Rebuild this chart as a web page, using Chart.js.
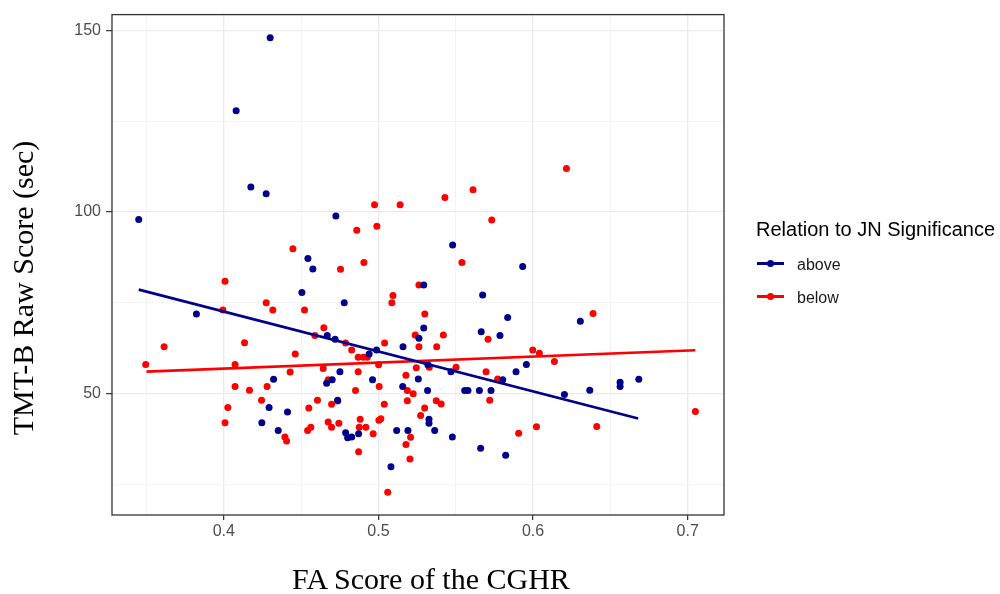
<!DOCTYPE html>
<html>
<head>
<meta charset="utf-8">
<title>TMT-B Raw Score vs FA Score of the CGHR</title>
<script src="https://cdn.jsdelivr.net/npm/chart.js@4"></script>
<style>
  * { margin: 0; padding: 0; box-sizing: border-box }
  body { width: 1000px; height: 594px; background: #fff; overflow: hidden; font-family: "Liberation Sans", Arial, sans-serif }
  #wrap { position: relative; width: 1000px; height: 594px }
  #chart { position: absolute; left: 0; top: 0 }
  .ax-title { position: absolute; width: 400px; height: 30px; font-family: "Liberation Serif", "Times New Roman", serif; font-size: 30px; line-height: 30px; color: #000; text-align: center; white-space: nowrap }
  #xTitle { left: 231px; top: 564px }
  #yTitle { left: -177px; top: 273px; transform: rotate(-90deg) }
  #legTitle { position: absolute; left: 756px; top: 219px; font-size: 20px; line-height: 20px; color: #000; white-space: nowrap }
  .leg-key { position: absolute; left: 757px; width: 27px; height: 3px }
  .leg-key span { position: absolute; left: 10px; top: -2px; width: 7px; height: 7px; border-radius: 50% }
  .leg-text { position: absolute; left: 797px; font-size: 16px; line-height: 16px; color: #1a1a1a; white-space: nowrap }
</style>
</head>
<body>
<div id="wrap">
  <canvas id="chart" width="1000" height="594"></canvas>
  <div class="ax-title" id="xTitle">FA Score of the CGHR</div>
  <div class="ax-title" id="yTitle">TMT-B Raw Score (sec)</div>
  <div id="legTitle">Relation to JN Significance</div>
  <div id="legend"></div>
</div>
<script>
// ---- data ----
var aboveX = [0.430, 0.408, 0.4175, 0.4274, 0.345, 0.4725, 0.4544, 0.4576, 0.548, 0.5293,
              0.4505, 0.4779, 0.5293, 0.5262, 0.5674, 0.5836, 0.5665, 0.5786, 0.6306, 0.5957,
              0.589, 0.5804, 0.5558, 0.5579, 0.5653, 0.5728, 0.6203, 0.6367, 0.6563, 0.6563,
              0.6684, 0.5661, 0.5823, 0.5478, 0.5469, 0.5318, 0.5258, 0.532, 0.5159, 0.5157,
              0.5327, 0.5327, 0.5364, 0.5191, 0.494, 0.4988, 0.4751, 0.4665, 0.4701, 0.4962,
              0.5118, 0.5081, 0.4788, 0.4801, 0.4827, 0.4872, 0.3823, 0.4669, 0.472, 0.4322,
              0.4293, 0.4412, 0.4246, 0.4352, 0.4736, 0.5933];
var aboveY = [148.0, 127.9, 106.9, 105.0, 97.9, 98.9, 87.2, 84.3, 90.9, 79.9,
              77.8, 75.0, 68.0, 65.2, 77.1, 70.9, 67.0, 66.0, 69.9, 58.0,
              56.0, 53.8, 50.8, 50.8, 50.8, 50.8, 49.7, 50.9, 53.1, 51.9,
              53.9, 34.9, 33.0, 38.0, 56.0, 50.8, 54.0, 57.9, 62.9, 51.9,
              42.9, 41.8, 39.8, 39.8, 60.9, 62.0, 56.0, 52.8, 53.8, 53.8,
              39.8, 29.8, 39.2, 37.8, 38.0, 38.9, 71.9, 66.0, 64.9, 53.9,
              46.1, 44.9, 41.9, 39.8, 48.1, 85.0];

var belowX = [0.4975, 0.514, 0.486, 0.499, 0.4447, 0.4906, 0.4755, 0.5612, 0.543, 0.554,
              0.5262, 0.5094, 0.5087, 0.530, 0.4522, 0.4647, 0.5238, 0.542, 0.5709, 0.6388,
              0.5998, 0.6041, 0.6138, 0.5696, 0.5771, 0.572, 0.6022, 0.5907, 0.6412, 0.705,
              0.5502, 0.5178, 0.5245, 0.5329, 0.5187, 0.5225, 0.5187, 0.5374, 0.5406, 0.5299,
              0.5273, 0.5208, 0.5178, 0.5204, 0.5262, 0.5377, 0.5733, 0.6216, 0.504, 0.4869,
              0.4902, 0.4928, 0.4827, 0.5001, 0.4869, 0.4643, 0.4675, 0.4852, 0.5005, 0.4606,
              0.455, 0.4697, 0.4737, 0.5038, 0.5003, 0.5016, 0.4675, 0.4697, 0.4744, 0.4542,
              0.4563, 0.4882, 0.4876, 0.4919, 0.4966, 0.4872, 0.506, 0.4008, 0.4274, 0.4317,
              0.3994, 0.4589, 0.4788, 0.4134, 0.3614, 0.3495, 0.4462, 0.4073, 0.4429, 0.4073,
              0.4166, 0.428, 0.4244, 0.4026, 0.4008, 0.4395, 0.4406];
var belowY = [102.0, 102.0, 95.0, 96.1, 89.9, 86.1, 84.2, 106.1, 104.0, 86.1,
              79.9, 77.0, 75.0, 71.9, 73.0, 68.1, 66.1, 66.1, 64.9, 72.0,
              62.0, 61.1, 58.8, 56.0, 54.0, 48.1, 40.8, 39.0, 40.9, 45.0,
              57.2, 55.0, 57.1, 57.2, 50.8, 49.9, 48.0, 48.0, 47.1, 46.0,
              43.9, 37.9, 35.9, 31.9, 62.9, 62.9, 97.8, 112.0, 63.9, 60.0,
              60.0, 60.0, 62.0, 57.9, 56.0, 56.9, 53.8, 50.8, 51.9, 48.1,
              46.0, 47.0, 47.9, 47.0, 42.6, 43.0, 42.1, 40.7, 41.8, 39.8,
              40.7, 42.9, 40.7, 40.7, 38.9, 33.9, 22.8, 80.9, 75.0, 73.0,
              73.0, 66.0, 63.9, 64.0, 62.9, 58.0, 60.9, 58.0, 55.9, 51.9,
              50.9, 51.9, 48.1, 46.1, 41.9, 38.0, 36.9];

// fitted lines, end points as drawn
var aboveFitX = [0.345, 0.668];
var aboveFitY = [78.6, 43.1];
var belowFitX = [0.350, 0.705];
var belowFitY = [56.0, 61.9];

var xTickLabels = ['0.4', '0.5', '0.6', '0.7'];
var xMinorTicks = [0.35, 0.45, 0.55, 0.65];
var yTickLabels = ['50', '100', '150'];
var yMinorTicks = [25, 75, 125];

var seriesNames = ['above', 'below'];
var seriesColors = ['#00008B', '#FF0000'];

// ---- helpers ----
function pts(xs, ys) {
  return xs.map(function (x, i) { return { x: x, y: ys[i] }; });
}
function isIn(v, list) {
  return list.some(function (m) { return Math.abs(m - v) < 1e-6; });
}
var xMajor = xTickLabels.map(parseFloat);
var yMajor = yTickLabels.map(parseFloat);

function axisOpts(major, minor, labels, min, max, tickLen, pad) {
  return {
    type: 'linear', min: min, max: max,
    afterBuildTicks: function (axis) {
      axis.ticks = major.concat(minor).sort(function (a, b) { return a - b; })
        .map(function (v) { return { value: v }; });
    },
    border: { display: false },
    grid: {
      color: function (c) { return isIn(c.tick.value, major) ? '#EBEBEB' : '#F3F3F3'; },
      lineWidth: function (c) { return isIn(c.tick.value, major) ? 1.3 : 0.9; },
      tickColor: function (c) { return isIn(c.tick.value, major) ? '#333333' : 'rgba(0,0,0,0)'; },
      tickWidth: 1.2,
      tickLength: tickLen
    },
    ticks: {
      autoSkip: false, maxRotation: 0, padding: pad,
      color: '#4D4D4D', font: { size: 16 },
      callback: function (v) {
        var i = major.findIndex(function (m) { return Math.abs(m - v) < 1e-6; });
        return i >= 0 ? labels[i] : '';
      }
    }
  };
}

var panelBorder = {
  id: 'panelBorder',
  afterDraw: function (chart) {
    var a = chart.chartArea, c = chart.ctx;
    c.save();
    c.strokeStyle = '#333333';
    c.lineWidth = 1.3;
    c.strokeRect(a.left, a.top, a.right - a.left, a.bottom - a.top);
    c.restore();
  }
};

Chart.defaults.font.family = '"Liberation Sans", Arial, sans-serif';

var xScale = axisOpts(xMajor, xMinorTicks, xTickLabels, 0.3277, 0.7235, 5, 2);
xScale.afterFit = function (s) { s.height = 79; };
var yScale = axisOpts(yMajor, yMinorTicks, yTickLabels, 16.5, 154.4, 6, 5);
yScale.afterFit = function (s) { s.width = 112; };

new Chart(document.getElementById('chart'), {
  type: 'scatter',
  data: {
    datasets: [
      { label: 'above fit', data: pts(aboveFitX, aboveFitY), showLine: true, borderColor: seriesColors[0],
        borderWidth: 2.7, pointRadius: 0, order: 0 },
      { label: 'below fit', data: pts(belowFitX, belowFitY), showLine: true, borderColor: seriesColors[1],
        borderWidth: 2.7, pointRadius: 0, order: 0 },
      { label: seriesNames[0], data: pts(aboveX, aboveY), backgroundColor: seriesColors[0],
        pointRadius: 3.5, pointBorderWidth: 0, order: 1 },
      { label: seriesNames[1], data: pts(belowX, belowY), backgroundColor: seriesColors[1],
        pointRadius: 3.5, pointBorderWidth: 0, order: 2 }
    ]
  },
  options: {
    responsive: false, animation: false, devicePixelRatio: 1, events: [],
    layout: { padding: { left: 0, right: 276, top: 13, bottom: 0 } },
    plugins: { legend: { display: false }, tooltip: { enabled: false } },
    scales: { x: xScale, y: yScale }
  },
  plugins: [panelBorder]
});

// ---- legend (html) ----
var legHtml = '';
var keyY = [262, 294.5], textY = [257, 290];
seriesNames.forEach(function (n, i) {
  legHtml += '<div class="leg-key" style="top:' + keyY[i] + 'px;background:' + seriesColors[i] + '">' +
             '<span style="background:' + seriesColors[i] + '"></span></div>' +
             '<div class="leg-text" style="top:' + textY[i] + 'px">' + n + '</div>';
});
document.getElementById('legend').innerHTML = legHtml;
</script>
</body>
</html>
